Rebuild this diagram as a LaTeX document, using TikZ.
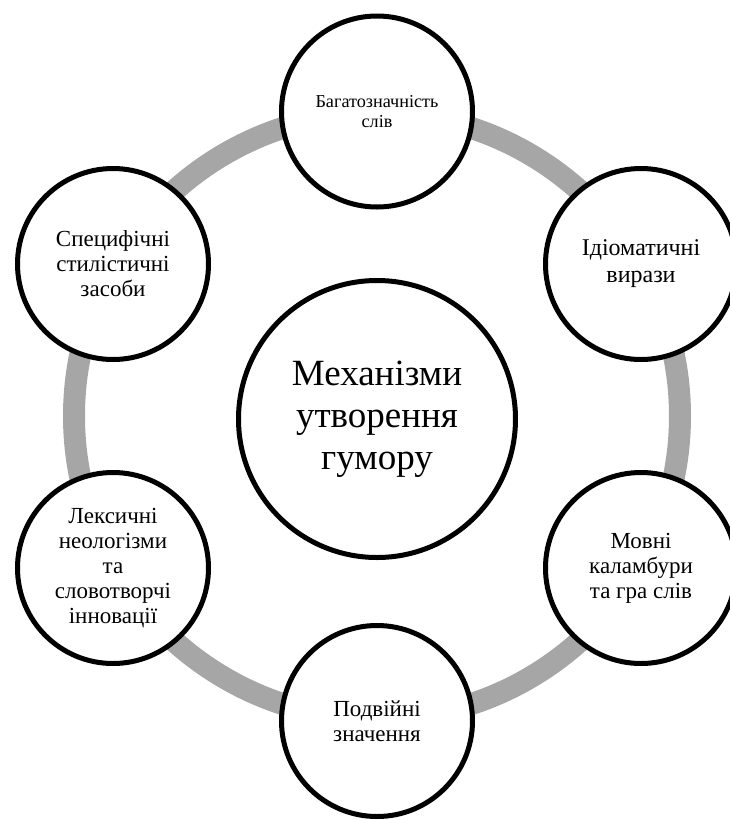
\documentclass[tikz,border=0pt]{standalone}
\usepackage{fontspec}
\setmainfont{Liberation Serif}
\definecolor{ringgray}{HTML}{A6A6A6}
\begin{document}
\begin{tikzpicture}[x=1pt,y=-1pt,
  outer/.style={circle, draw=black, line width=5pt, fill=white, minimum size=191pt, inner sep=0pt, align=center, font=\fontsize{23}{25}\selectfont},
  centre/.style={circle, draw=black, line width=5pt, fill=white, minimum size=277pt, inner sep=0pt, align=center, font=\fontsize{37}{42}\selectfont},
  ring/.style={draw=ringgray, line width=22pt}]
\useasboundingbox (0,0) rectangle (729,820);
\coordinate (O) at (377,416);
\draw[ring] (O) circle[radius=303pt];
\node[centre] (c) at (377,419) {Механізми\\утворення\\гумору};
\node[outer, font=\fontsize{18.2}{20}\selectfont] (n1) at (377,111.5) {Багатозначність\\слів};
\node[outer, font=\fontsize{24}{27}\selectfont] (n2) at (641,264) {Ідіоматичні\\вирази};
\node[outer] (n3) at (641,568) {Мовні\\каламбури\\та гра слів};
\node[outer] (n4) at (377,721) {Подвійні\\значення};
\node[outer] (n5) at (113,568) {Лексичні\\неологізми\\та\\словотворчі\\інновації};
\node[outer] (n6) at (113,264) {Специфічні\\стилістичні\\засоби};
\end{tikzpicture}
\end{document}
